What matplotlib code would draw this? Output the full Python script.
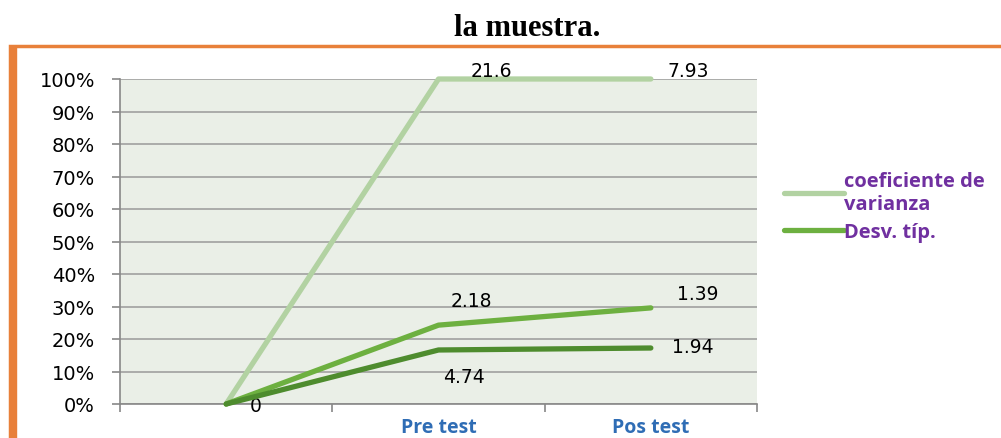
import matplotlib.pyplot as plt
from matplotlib.patches import Rectangle
from matplotlib.lines import Line2D

categories = ["", "Pre test", "Pos test"]
media = [0, 4.74, 1.94]
desv_tip = [0, 2.18, 1.39]
coef_var = [0, 21.6, 7.93]

# 100% stacked
def stacked_pct(*series):
    out = []
    run = [0.0] * len(series[0])
    for s in series:
        run = [r + v for r, v in zip(run, s)]
        out.append(list(run))
    totals = run
    return [[(v / t * 100 if t else 0) for v, t in zip(s, totals)] for s in out]

p_media, p_desv, p_coef = stacked_pct(media, desv_tip, coef_var)

fig = plt.figure(figsize=(10.01, 4.39), dpi=100)
fig.patch.set_facecolor("white")

# orange frame
fig.patches.append(Rectangle((10 / 1001, -0.1), 1.2, 1 - 47 / 439 + 0.1,
                             transform=fig.transFigure, fill=False,
                             edgecolor="#E8803A", linewidth=2.5))
fig.patches.append(Rectangle((10 / 1001, -0.1), 6 / 1001, 1 - 47 / 439 + 0.1,
                             transform=fig.transFigure, color="#E8803A"))

fig.text(0.527, 1 - 29 / 439, "la muestra.", ha="center", va="center",
         fontsize=22, fontweight="bold", family="Liberation Serif")

ax = fig.add_axes([120 / 1001, 1 - 405 / 439, 637 / 1001, 325 / 439])
ax.set_facecolor("#EAEFE7")
x = list(range(len(categories)))

c_light = "#B2D2A2"
c_mid = "#6DB040"
c_dark = "#4E8C2E"
lw = 3.8

ax.plot(x, p_coef, color=c_light, lw=lw, solid_capstyle="round", clip_on=False, zorder=3)
ax.plot(x, p_desv, color=c_mid, lw=lw, solid_capstyle="round", clip_on=False, zorder=4)
ax.plot(x, p_media, color=c_dark, lw=lw, solid_capstyle="round", clip_on=False, zorder=5)

ax.set_xlim(-0.5, 2.5)
ax.set_ylim(0, 100)
ax.set_yticks(range(0, 101, 10))
ax.set_yticklabels([f"{v}%" for v in range(0, 101, 10)], fontsize=14)
ax.set_xticks([-0.5, 0.5, 1.5, 2.5])
ax.set_xticklabels([])
ax.tick_params(axis="both", color="#888888", length=6, width=1.2)
ax.tick_params(axis="y", pad=12)
ax.grid(axis="y", color="#A0A0A0", lw=1.2)
ax.set_axisbelow(True)
for s in ["top", "right"]:
    ax.spines[s].set_visible(False)
for s in ["left", "bottom"]:
    ax.spines[s].set_color("#888888")
    ax.spines[s].set_linewidth(1.2)

for xi, lab in zip(x, categories):
    ax.annotate(lab, (xi, 0), xytext=(0, -20.5), textcoords="offset points",
                ha="center", va="baseline", fontsize=14, fontweight="bold",
                color="#2F6DB5", family="Open Sans", annotation_clip=False)

lab_kw = dict(textcoords="offset points", fontsize=13.5, annotation_clip=False, ha="center", va="center")
ax.annotate(f"{coef_var[1]}", (1, p_coef[1]), xytext=(38, 6), **lab_kw)
ax.annotate(f"{coef_var[2]}", (2, p_coef[2]), xytext=(27, 6), **lab_kw)
ax.annotate(f"{desv_tip[1]}", (1, p_desv[1]), xytext=(24, 18), **lab_kw)
ax.annotate(f"{desv_tip[2]}", (2, p_desv[2]), xytext=(34, 10), **lab_kw)
ax.annotate(f"{media[2]}", (2, p_media[2]), xytext=(30, 1), **lab_kw)
ax.annotate(f"{media[1]}", (1, p_media[1]), xytext=(18, -19), **lab_kw)
ax.annotate("0", (0, 0), xytext=(21, -1), **lab_kw)

handles = [Line2D([], [], color=c_light, lw=lw, solid_capstyle="round"),
           Line2D([], [], color=c_mid, lw=lw, solid_capstyle="round")]
leg = fig.legend(handles, ["coeficiente de\nvarianza", "Desv. típ."],
                 loc="upper left", bbox_to_anchor=(776 / 1001, 1 - 164 / 439),
                 frameon=False, handlelength=3.0, handletextpad=0.0,
                 labelspacing=0.4, borderaxespad=0,
                 prop={"family": "Open Sans", "weight": "bold", "size": 14.5})
for t in leg.get_texts():
    t.set_color("#7030A0")

fig.savefig("out.png", dpi=100)
